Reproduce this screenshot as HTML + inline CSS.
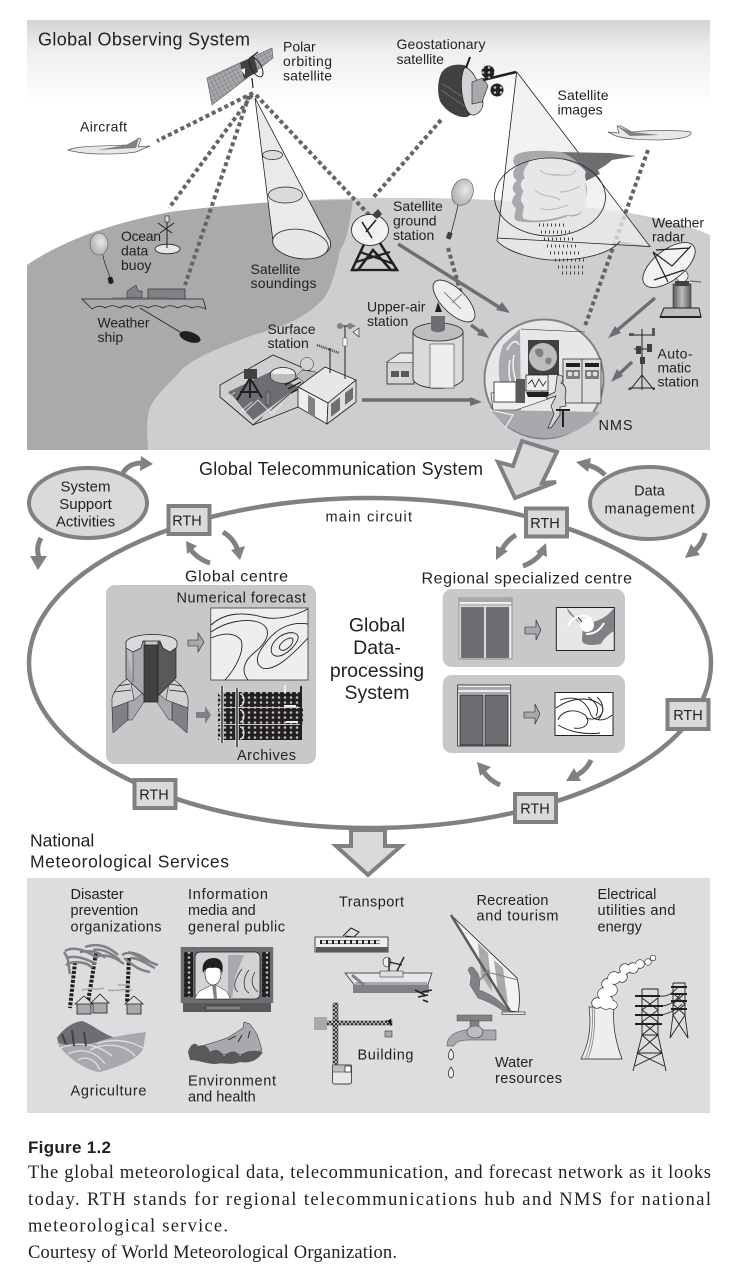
<!DOCTYPE html>
<html><head><meta charset="utf-8"><title>Global meteorological network</title>
<style>
html,body{margin:0;padding:0;background:#fff}
svg{display:block}
text{font-family:"Liberation Sans",sans-serif;fill:#231f20}
.l{font-size:14px}
.m{font-size:14.5px}
.c{font-size:15px;text-anchor:middle}
.cap{font-family:"Liberation Serif",serif;font-size:18.5px}
.dot{fill:none;stroke:#636466;stroke-width:4;stroke-dasharray:4 3}
.ar{fill:none;stroke:#6d6e71;stroke-width:3.4}
.af{fill:#6d6e71}
.cv{fill:none;stroke:#808184;stroke-width:5}
.cf{fill:#808184}
.k{fill:none;stroke:#231f20;stroke-width:.9}
.rth{fill:#d9dadc;stroke:#808184;stroke-width:4}
</style></head><body>
<svg xmlns="http://www.w3.org/2000/svg" width="752" height="1276" viewBox="0 0 752 1276">
<defs>
<linearGradient id="sky" x1="0" y1="0" x2="0" y2="1"><stop offset="0" stop-color="#d3d4d6"/><stop offset=".35" stop-color="#eeeeef"/><stop offset="1" stop-color="#fff"/></linearGradient>
<linearGradient id="ped" x1="0" y1="0" x2="1" y2="0"><stop offset="0" stop-color="#58595b"/><stop offset=".5" stop-color="#bcbdbf"/><stop offset="1" stop-color="#58595b"/></linearGradient>
<radialGradient id="bal" cx=".6" cy=".4" r=".7"><stop offset="0" stop-color="#e6e7e8"/><stop offset="1" stop-color="#a7a9ac"/></radialGradient>
<pattern id="grid" width="4" height="4" patternUnits="userSpaceOnUse" patternTransform="rotate(-28)"><rect width="4" height="4" fill="#a7a9ac"/><path d="M0 0H4M0 0V4" stroke="#58595b" stroke-width=".6"/></pattern>
<pattern id="rack" width="6" height="5" patternUnits="userSpaceOnUse"><rect width="6" height="5" fill="#231f20"/><circle cx="3" cy="2.5" r="1.3" fill="#bcbdbf"/></pattern>
<pattern id="lat" width="4" height="4" patternUnits="userSpaceOnUse"><rect width="4" height="4" fill="#dcddde"/><path d="M0 0L4 4M4 0L0 4" stroke="#231f20" stroke-width=".9"/></pattern>
</defs>
<rect width="752" height="1276" fill="#fff"/>

<!-- ===== Top panel ===== -->
<rect x="27" y="20" width="683" height="85" fill="url(#sky)"/>
<path d="M27 265C70 236 120 222 170 212C240 203 310 199 370 198C450 197 540 200 623 212C660 218 690 226 710 235V450H27Z" fill="#cdcecf"/>
<path d="M27 265C70 236 120 222 170 212C240 203 300 200 353 200C350 225 345 245 340 250C336 270 330 295 320 302C305 318 280 328 253 335C220 348 190 358 177 375C165 388 150 400 148 415C146 430 148 440 148 450H27Z" fill="#a9aaac"/>

<text x="38" y="45.5" font-size="18" textLength="212">Global Observing System</text>

<!-- dotted links -->
<path class="dot" d="M253 93L157 141"/>
<path class="dot" d="M252 95L169 208"/>
<path class="dot" d="M249 96L185 285"/>
<path class="dot" d="M256 95L372 218"/>
<path class="dot" d="M441 120L372 199"/>
<path class="dot" d="M648 150L585 326"/>
<path class="dot" d="M448 248L461 294"/>

<!-- Polar satellite -->
<polygon points="207,78 272,48 273,58 212,105" fill="url(#grid)" stroke="#58595b" stroke-width=".6"/>
<polygon points="240,63 254,57 258,72 244,79" fill="#414042"/>
<ellipse cx="256" cy="67" rx="5" ry="11" transform="rotate(-30 256 67)" fill="none" stroke="#231f20"/>
<path d="M250 58L258 52M252 78L253 88" stroke="#231f20" stroke-width="1.2"/>
<polygon points="241,70 245,68 245,75" fill="#fff"/>
<text class="l" x="283" y="51.5">Polar</text>
<text class="l" x="283" y="66" textLength="49">orbiting</text>
<text class="l" x="283" y="80.5" textLength="49">satellite</text>

<!-- Aircraft left -->
<text class="l" x="80" y="131.5" textLength="47">Aircraft</text>
<path d="M68 150C75 146 100 146 128 145L139 138L141 139L138 147L150 146L136 152C115 155 85 155 68 150Z" fill="#e6e7e8" stroke="#58595b" stroke-width=".7"/>
<path d="M98 150L126 145L139 138L136 148Z" fill="#808184"/>

<!-- Sounding cone -->
<path d="M255 98L273 241A28 15 14 1 0 328 237Z" fill="#e9eaeb" stroke="#231f20" stroke-width=".8"/>
<ellipse cx="272.5" cy="155" rx="10" ry="4.5" fill="#d9dadc" stroke="#231f20" stroke-width=".7"/>
<ellipse cx="285.5" cy="195" rx="17" ry="8" fill="#d9dadc" stroke="#231f20" stroke-width=".7"/>
<ellipse cx="300.5" cy="244" rx="28" ry="14.5" transform="rotate(8 300 244)" fill="#e6e7e8" stroke="#231f20" stroke-width=".8"/>
<text class="l" x="250.5" y="274">Satellite</text>
<text class="l" x="250.5" y="288" textLength="66">soundings</text>

<!-- Balloon left, buoy -->
<ellipse cx="99" cy="244" rx="9" ry="11" fill="url(#bal)" stroke="#58595b" stroke-width=".6"/>
<path d="M103 255C104 264 108 270 110 278" stroke="#231f20" stroke-width=".7" fill="none"/>
<rect x="108" y="277" width="5" height="7" rx="2" fill="#231f20" transform="rotate(-15 110 280)"/>
<ellipse cx="167.5" cy="249" rx="12.5" ry="4.8" fill="#e6e7e8" stroke="#231f20" stroke-width=".8"/>
<path d="M167 248V218M158 223L172 233M174 223L160 233" stroke="#231f20" stroke-width="1"/>
<rect x="165" y="216" width="4" height="6" fill="#dcddde" stroke="#231f20" stroke-width=".6"/>
<text class="l" x="121" y="241" textLength="40">Ocean</text>
<text class="l" x="121" y="255.5">data</text>
<text class="l" x="121" y="270">buoy</text>

<!-- Weather ship -->
<rect x="148" y="289" width="37" height="11" fill="#808184" stroke="#231f20" stroke-width=".6"/>
<path d="M127 298V291L136 285L138 291H142V298Z" fill="#808184" stroke="#231f20" stroke-width=".5"/>
<rect x="113" y="298" width="55" height="5" fill="#eeeeef" stroke="#231f20" stroke-width=".5"/>
<path d="M82 299H203L206 309C200 306 196 306 192 308C187 305 183 305 178 308C172 305 168 305 163 308C157 305 153 305 148 308C143 305 138 305 133 308C128 305 124 305 120 308C114 305 110 305 105 308C101 305 97 306 92 309Z" fill="#a9aaac" stroke="#231f20" stroke-width=".8"/>
<path d="M140 308L180 332" stroke="#231f20" stroke-width=".8"/>
<ellipse cx="190" cy="337" rx="11" ry="5" transform="rotate(18 190 337)" fill="#231f20"/>
<text class="l" x="97.5" y="327.5" textLength="52">Weather</text>
<text class="l" x="97.5" y="342">ship</text>

<!-- Ground station -->
<path d="M366 240L352 270H358L373 250L391 270H397L378 240Z" fill="none" stroke="#231f20" stroke-width="2.5"/>
<path d="M356 262L390 252M394 264L360 252M352 270H397" stroke="#231f20" stroke-width="2.2"/>
<ellipse cx="370" cy="230" rx="18.5" ry="15.5" fill="#f1f2f2" stroke="#231f20" stroke-width=".8"/>
<path d="M362 222L372 238M376 220L366 232" stroke="#231f20" stroke-width="1.6"/>
<path d="M372 215l6 -6 4 5-5 5z" fill="#414042"/>
<text class="l" x="393" y="211">Satellite</text>
<text class="l" x="393" y="225.5">ground</text>
<text class="l" x="393" y="240">station</text>

<!-- Balloon right -->
<ellipse cx="462.5" cy="192" rx="10.5" ry="13.5" transform="rotate(20 462 192)" fill="url(#bal)" stroke="#58595b" stroke-width=".6"/>
<path d="M458 205C456 215 453 226 451 233" stroke="#231f20" stroke-width=".7" fill="none"/>
<rect x="447" y="232" width="5" height="7" rx="1" fill="#414042" transform="rotate(20 449 235)"/>

<!-- Geostationary satellite -->
<text class="l" x="396.5" y="49" textLength="89">Geostationary</text>
<text class="l" x="396.5" y="64">satellite</text>
<path d="M442 72C437 80 437 96 441 103C447 112 458 118 467 117C473 114 478 108 480 100L467 66C458 63 447 65 442 72Z" fill="#414042"/>
<path d="M441 90L470 110M443 84L472 103" stroke="#808184" stroke-width=".7"/>
<path d="M465 67C474 70 483 90 483 104C482 113 474 117 470 114C462 108 458 78 465 67Z" fill="#d1d3d4" stroke="#231f20" stroke-width=".7"/>
<path d="M470 57L466 68" stroke="#231f20" stroke-width="2"/>
<path d="M472 82L483 78L488 86L482 102L472 104Z" fill="#a7a9ac" stroke="#231f20" stroke-width=".6"/>
<path d="M483 80L516 72" stroke="#231f20" stroke-width="2.6"/>
<circle cx="488" cy="72" r="6.5" fill="url(#rack)"/>
<circle cx="497" cy="90" r="6.5" fill="url(#rack)"/>

<!-- Satellite image cone and cloud -->
<path d="M516.7 71.7L497 241C510 254 540 261 560 260C590 259 612 252 620 241L650 246.5Z" fill="#eeeeef" fill-opacity=".75"/>
<path d="M516.7 71.7L497 241C510 254 540 261 560 260C590 259 612 252 620 241" fill="none" stroke="#231f20" stroke-width=".8"/>
<path d="M516.7 71.7L650 246.5L497 238" fill="none" stroke="#231f20" stroke-width=".8"/>
<path d="M556 152L610 153L636 156L612 160L606 165L598 170L600 174L586 181L584 172Z" fill="#6d6e71"/>
<path d="M515 156C520 150 545 150 560 152C572 155 580 165 585 170L584 180C590 190 586 198 584 203C585 212 578 218 568 216C555 222 530 224 517 221C512 218 516 211 516 208C510 204 512 197 516 194C511 190 512 184 517 181C511 176 513 169 517 167C513 164 512 160 515 156Z" fill="#a7a9ac"/>
<path d="M530 160C545 155 575 158 586 172C582 180 590 195 585 205C583 214 575 216 566 215C552 220 534 222 524 219C520 214 526 208 523 204C518 198 524 194 523 190C519 186 521 180 525 178C521 172 526 168 530 160Z" fill="#e6e7e8"/>
<path d="M540 170C548 178 556 172 560 176M535 190C542 198 552 194 560 200M540 208C548 212 560 208 568 205M553 176C560 172 570 180 576 170M560 192C566 192 574 190 580 186" fill="none" stroke="#bcbdbf" stroke-width="1.2"/>
<ellipse cx="550" cy="197" rx="55.5" ry="39" fill="none" stroke="#231f20" stroke-width=".8"/>
<path d="M539 225H565M541 232H570M544 239H574M547 246H578M550 253H582M555 260H586M558 267H586M562 273H584" stroke="#414042" stroke-width="3" stroke-dasharray="1 3" fill="none"/>
<text class="l" x="557.5" y="100" textLength="51">Satellite</text>
<text class="l" x="557.5" y="114.5">images</text>

<!-- Plane right -->
<path d="M608 132L619 133L617 126L621 126L632 132C650 130 680 130 691 132C692 137 682 139 660 140C640 140 625 139 616 136Z" fill="#e6e7e8" stroke="#58595b" stroke-width=".7"/>
<path d="M617 126L632 132L660 135L630 136Z" fill="#808184"/>

<!-- Weather radar -->
<text class="l" x="652" y="227.5" textLength="52">Weather</text>
<text class="l" x="652" y="241.5">radar</text>
<rect x="673" y="284" width="18" height="24" fill="url(#ped)" stroke="#231f20" stroke-width=".5"/>
<path d="M664 308H699L701 317H660Z" fill="#bcbdbf" stroke="#231f20"/>
<rect x="660" y="316" width="41" height="2" fill="#231f20"/>
<circle cx="682" cy="276" r="6" fill="#f1f2f2" stroke="#231f20" stroke-width=".6"/>
<rect x="675" y="281" width="14" height="5" fill="#414042"/>
<ellipse cx="669" cy="265" rx="31" ry="15" transform="rotate(-38 669 265)" fill="#f1f2f2" stroke="#231f20" stroke-width=".8"/>
<path d="M653 252L672 266L691 246M653 252L668 282M684 270L654 280M656 250L690 248" fill="none" stroke="#231f20" stroke-width="1.2"/>
<path d="M690 281L701 282" stroke="#58595b" stroke-width="1"/>

<!-- Upper-air -->
<text class="l" x="367" y="311.5">Upper-air</text>
<text class="l" x="367" y="326">station</text>
<rect x="387" y="362" width="27" height="22" fill="#d1d3d4" stroke="#231f20" stroke-width=".8"/>
<path d="M387 362L400 353H415V362" fill="#e6e7e8" stroke="#231f20" stroke-width=".7"/>
<rect x="391" y="371" width="8" height="6" fill="#58595b"/><rect x="401" y="371" width="8" height="6" fill="#58595b"/>
<path d="M413 332V380C420 391 455 391 463 380V332Z" fill="#d9dadc" stroke="#231f20" stroke-width=".8"/>
<ellipse cx="438" cy="332" rx="25" ry="9" fill="#bcbdbf" stroke="#231f20" stroke-width=".7"/>
<path d="M430 344H454V388H430Z" fill="#eeeeef" stroke="#231f20" stroke-width=".5"/>
<path d="M431 330V316H445V330C441 333 435 333 431 330Z" fill="#6d6e71"/>
<path d="M435 312L438 302L442 312Z" fill="#231f20"/>
<ellipse cx="454" cy="301" rx="27" ry="12" transform="rotate(45 454 301)" fill="#eeeeef" stroke="#231f20" stroke-width=".8"/>
<path d="M444 292L461 309M452 303L462 294" stroke="#808184" stroke-width="1"/>

<!-- Surface station -->
<text class="l" x="267.5" y="334" textLength="48">Surface</text>
<text class="l" x="267.5" y="348">station</text>
<polygon points="220,385 273,355 315,373 298,387 253,425 220,397" fill="#cdcecf" stroke="#231f20" stroke-width=".8"/>
<polygon points="228,392 270,372 298,387 253,420" fill="#6d6e71"/>
<path d="M220 397L253 425L298 407" fill="none" stroke="#231f20" stroke-width=".8"/>
<path d="M225 400L235 392M240 412L252 402M262 418L272 408M232 396L245 412L258 400L272 414L282 404" fill="none" stroke="#eeeeef" stroke-width=".8"/>
<ellipse cx="283" cy="374" rx="12.5" ry="6.5" fill="#eeeeef" stroke="#231f20" stroke-width=".8"/>
<path d="M270.5 374V378C276 385 290 385 295.5 378V374" fill="#bcbdbf" stroke="#231f20" stroke-width=".6"/>
<path d="M250 378L237 400M250 378L262 398M250 378V398M240 392H259" fill="none" stroke="#231f20" stroke-width="2"/>
<rect x="244" y="369" width="13" height="10" fill="#414042"/>
<rect x="266" y="392" width="4" height="13" fill="#808184" stroke="#231f20" stroke-width=".4"/>
<path d="M302 370L316 372L320 378L306 384L296 376Z" fill="#bcbdbf" stroke="#231f20" stroke-width=".5"/>
<circle cx="307" cy="364" r="6.5" fill="#d1d3d4" stroke="#231f20" stroke-width=".5"/>
<path d="M285 385L298 378M288 389L301 382M291 393L304 386" stroke="#231f20" stroke-width="1.4"/>
<polygon points="298,387 325,367 356,380 328,403" fill="#e6e7e8" stroke="#231f20" stroke-width=".8"/>
<polygon points="298,387 328,403 327,424 298,407" fill="#eeeeef" stroke="#231f20" stroke-width=".8"/>
<polygon points="328,403 356,380 356,402 327,424" fill="#dcddde" stroke="#231f20" stroke-width=".8"/>
<polygon points="331,404 340,397 340,410 331,417" fill="#6d6e71"/>
<polygon points="345,393 353,387 353,399 345,405" fill="#6d6e71"/>
<polygon points="308,395 315,399 315,417 308,413" fill="#808184"/>
<path d="M330 373V348M345 379V330" stroke="#231f20" stroke-width="1"/>
<path d="M317 345L339 353" stroke="#414042" stroke-width="2.5" stroke-dasharray="1 1"/>
<path d="M339 326H355M345 326V340" stroke="#231f20" stroke-width="1"/>
<circle cx="340" cy="326" r="3" fill="#808184"/><circle cx="350" cy="326" r="3" fill="#808184"/>
<polygon points="353,332 359,328 359,337" fill="#e6e7e8" stroke="#231f20" stroke-width=".6"/>
<rect x="343" y="338" width="4" height="8" fill="#fff" stroke="#231f20" stroke-width=".4"/>

<!-- Automatic station -->
<path d="M642 329V375M642 375L630 390M642 375V390M642 375L654 390M629 388H655M629 388V390M654 388V390" fill="none" stroke="#231f20" stroke-width="1"/>
<path d="M630 335H654M634 349H651" stroke="#231f20" stroke-width="1"/>
<rect x="640" y="357" width="5" height="7" fill="#414042"/>
<rect x="636" y="346" width="5" height="8" fill="#414042"/><rect x="647" y="344" width="5" height="8" fill="#414042"/>
<rect x="629" y="333" width="5" height="3" fill="#58595b"/><rect x="652" y="328" width="3" height="8" fill="#58595b"/>
<text class="l" x="657.5" y="358.5" textLength="35">Auto-</text>
<text class="l" x="657.5" y="372.5">matic</text>
<text class="l" x="657.5" y="386.5">station</text>

<!-- NMS room -->
<circle cx="544" cy="379" r="59.5" fill="#e6e7e8" stroke="#808184" stroke-width="2"/>
<path d="M503 345L520 329L521 420L505 400C497 380 497 360 503 345Z" fill="#a7a9ac"/>
<path d="M507 350C512 340 517 340 519 345M510 360C506 380 515 395 518 400M514 355C510 375 520 385 517 395" fill="none" stroke="#f1f2f2" stroke-width="1.5"/>
<path d="M521 329L585 332" stroke="#231f20" stroke-width=".6"/>
<rect x="528" y="340" width="31" height="35" fill="#414042"/>
<circle cx="543" cy="357" r="14" fill="#bcbdbf"/>
<path d="M535 350C540 346 545 350 543 355C540 360 535 356 535 350ZM546 358C552 356 553 360 550 364C547 366 544 362 546 358Z" fill="#808184"/>
<rect x="563" y="359" width="38" height="44" fill="#dcddde" stroke="#231f20" stroke-width=".7"/>
<path d="M582 359V403" stroke="#231f20" stroke-width=".7"/>
<rect x="566" y="363" width="14" height="4" fill="#231f20"/><rect x="585" y="363" width="14" height="4" fill="#231f20"/>
<rect x="566" y="370" width="14" height="9" fill="#808184"/><rect x="585" y="370" width="14" height="9" fill="#808184"/>
<circle cx="570" cy="374" r="3" fill="#dcddde" stroke="#231f20" stroke-width=".5"/><circle cx="576" cy="374" r="3" fill="#dcddde" stroke="#231f20" stroke-width=".5"/>
<circle cx="589" cy="374" r="3" fill="#dcddde" stroke="#231f20" stroke-width=".5"/><circle cx="595" cy="374" r="3" fill="#dcddde" stroke="#231f20" stroke-width=".5"/>
<path d="M490 410L547 411L600 412L592 420C580 432 560 438 544 438C527 438 510 430 500 420Z" fill="#a7a9ac"/>
<path d="M490 410L513 415L505 428" stroke="#fff" stroke-width="1" fill="none"/>
<polygon points="491,393 540,389 548,399 516,410 493,410" fill="#eeeeef" stroke="#231f20" stroke-width=".6"/>
<rect x="494" y="382" width="22" height="20" fill="#fff" stroke="#231f20" stroke-width=".8"/>
<rect x="516" y="379" width="9" height="24" fill="#58595b"/>
<rect x="526" y="375" width="22" height="16" fill="#eeeeef" stroke="#231f20" stroke-width=".8"/>
<path d="M528 384L532 380L535 387L539 379L543 386L546 381" fill="none" stroke="#231f20" stroke-width=".8"/>
<path d="M526 392H549L548 397H528Z" fill="#231f20"/>
<path d="M557 378C556 374 562 374 563 378C563 381 562 382 561 383C566 385 567 390 565 398L566 406L560 407V415L551 428H548L554 414L551 406L556 396L547 399V396L555 392Z" fill="#d1d3d4" stroke="#231f20" stroke-width=".7"/>
<path d="M556 410H570M563 410V427" stroke="#231f20" stroke-width="2"/>
<text x="598.5" y="430" font-size="14.5" textLength="34">NMS</text>

<!-- arrows top -->
<path class="ar" d="M398 244L502 309"/><polygon class="af" points="510,313 496,310 502,302"/>
<path class="ar" d="M471 325L482 333"/><polygon class="af" points="489,338 477,335 482,328"/>
<path class="ar" d="M655 298L614 333"/><polygon class="af" points="608,338 615,326 621,333"/>
<path class="ar" d="M632 362L617 376"/><polygon class="af" points="611,382 617,369 623,376"/>
<path class="ar" d="M362 400H474"/><polygon class="af" points="482,402 470,397 470,406"/>

<!-- band white below panel -->
<rect x="0" y="450" width="752" height="428" fill="#fff"/>

<!-- ===== GTS ===== -->
<ellipse cx="370" cy="663" rx="341" ry="165" fill="none" stroke="#808184" stroke-width="4.5"/>
<text x="199" y="475" font-size="18" textLength="284">Global Telecommunication System</text>
<polygon points="522,441 557,452 542,483 556,482 515,498 498,462 513,466" fill="#d9dadc" stroke="#808184" stroke-width="4"/>

<ellipse cx="88" cy="503" rx="59" ry="35" fill="#d9dadc" stroke="#808184" stroke-width="4"/>
<text class="c" x="85.5" y="491.5">System</text>
<text class="c" x="85.5" y="509">Support</text>
<text class="c" x="85.5" y="526.5">Activities</text>
<ellipse cx="649" cy="503" rx="59" ry="36" fill="#d9dadc" stroke="#808184" stroke-width="4"/>
<text x="649.5" y="495.5" font-size="14.5" text-anchor="middle">Data</text>
<text x="649.5" y="513.5" font-size="14.5" text-anchor="middle" textLength="90">management</text>

<rect class="rth" x="168.5" y="506" width="41" height="28"/>
<rect class="rth" x="526" y="508.5" width="41" height="28"/>
<rect class="rth" x="667.5" y="700" width="41" height="29"/>
<rect class="rth" x="515" y="794" width="41" height="28"/>
<rect class="rth" x="134.5" y="780" width="41" height="28"/>
<text x="187" y="525.5" font-size="14.5" text-anchor="middle">RTH</text>
<text x="545" y="528" font-size="14.5" text-anchor="middle">RTH</text>
<text x="688" y="720" font-size="14.5" text-anchor="middle">RTH</text>
<text x="535" y="813.5" font-size="14.5" text-anchor="middle">RTH</text>
<text x="154" y="799.5" font-size="14.5" text-anchor="middle">RTH</text>
<text class="m" x="325.5" y="521.5" textLength="86.5">main circuit</text>

<!-- curved arrows -->
<path class="cv" d="M123 473C127 466 134 463 142 463"/><polygon class="cf" points="153,464 140,471 141,456"/>
<path class="cv" d="M41 538C37 545 37 551 39 558"/><polygon class="cf" points="38,570 30,556 47,556"/>
<path class="cv" d="M210 563C200 560 194 554 190 549"/><polygon class="cf" points="186,541 197,546 187,554"/>
<path class="cv" d="M223 532C231 537 236 544 238 551"/><polygon class="cf" points="240,560 231,550 245,546"/>
<path class="cv" d="M516 535C509 539 504 545 502 550"/><polygon class="cf" points="496,560 496,546 508,551"/>
<path class="cv" d="M523 566C531 563 538 558 542 552"/><polygon class="cf" points="546,543 547,557 536,552"/>
<path class="cv" d="M605 475C600 470 594 466 586 465"/><polygon class="cf" points="576,462 591,458 588,472"/>
<path class="cv" d="M705 533C703 541 699 547 694 551"/><polygon class="cf" points="685,558 691,544 700,555"/>
<path class="cv" d="M591 760C588 767 582 773 575 776"/><polygon class="cf" points="566,781 574,768 581,781"/>
<path class="cv" d="M500 785C493 782 487 777 483 771"/><polygon class="cf" points="477,762 491,767 480,776"/>

<!-- Global centre -->
<text x="185" y="581.5" font-size="16" textLength="103">Global centre</text>
<rect x="106" y="585" width="210" height="179" rx="9" fill="#c7c8ca"/>
<text class="m" x="176.5" y="602.5" textLength="129.5">Numerical forecast</text>
<rect x="210.7" y="608" width="97.3" height="72" fill="#eeeeef" stroke="#58595b" stroke-width="1"/>
<g class="k">
<path d="M211 625C225 612 245 612 262 617C275 620 290 618 308 609"/>
<path d="M211 632C225 622 245 618 258 622C272 627 270 640 255 652C245 660 240 670 248 680"/>
<path d="M211 638C225 632 235 633 241 640C245 650 236 668 225 680"/>
<path d="M308 624C295 622 280 625 268 640C258 652 253 662 262 668C275 672 292 655 308 638"/>
<path d="M274 642C282 632 295 630 298 636C300 642 285 658 276 656C270 655 270 648 274 642Z"/>
<path d="M280 645C285 638 293 636 293 640C293 645 285 652 281 650C279 649 279 647 280 645Z"/>
</g>
<polygon points="188,640 198,640 198,633 204,642 198,652 198,646 188,646" fill="#a7a9ac" stroke="#231f20" stroke-width=".6"/>
<polygon points="196,712 205,712 205,706 211,715 205,724 205,718 196,718" fill="#808184"/>

<!-- Supercomputer -->
<path d="M112 698C115 688 122 682 130 677L134 700L112 708Z" fill="#d1d3d4" stroke="#231f20" stroke-width=".6"/>
<path d="M188 698C185 688 178 682 170 677L166 700L188 708Z" fill="#d1d3d4" stroke="#231f20" stroke-width=".6"/>
<path d="M114 692L131 690M118 686L130 684M186 692L169 690M182 686L170 684" stroke="#231f20" stroke-width=".8"/>
<polygon points="112,708 128,702 128,720 113,733" fill="#808184" stroke="#231f20" stroke-width=".5"/>
<polygon points="128,702 134,700 144,692 144,702 132,720 128,720" fill="#a7a9ac" stroke="#231f20" stroke-width=".5"/>
<polygon points="188,708 172,702 172,720 187,733" fill="#808184" stroke="#231f20" stroke-width=".5"/>
<polygon points="172,702 166,700 157,692 157,702 169,720 172,720" fill="#a7a9ac" stroke="#231f20" stroke-width=".5"/>
<path d="M126 642V678L145 696V642Z" fill="#a7a9ac" stroke="#231f20" stroke-width=".7"/>
<path d="M126 646L133 650V682" fill="#bcbdbf" stroke="#231f20" stroke-width=".5"/>
<path d="M144 645H158V702H144Z" fill="#414042" stroke="#231f20" stroke-width=".7"/>
<path d="M158 642V696L176 678V642Z" fill="#58595b" stroke="#231f20" stroke-width=".7"/>
<path d="M126 642V648L133 652L141 648L143 641H160L163 648L170 652L177 647V642C175 632 130 632 126 642Z" fill="#d9dadc" stroke="#231f20" stroke-width=".7"/>

<!-- Archives -->
<rect x="218" y="692" width="84" height="15" fill="url(#rack)"/>
<rect x="218" y="708" width="85" height="16" fill="url(#rack)"/>
<rect x="218" y="725" width="84" height="15" fill="url(#rack)"/>
<path d="M219 694a4 6 0 0 1 0 12M219 710a4 6 0 0 1 0 12M219 727a4 6 0 0 1 0 12M240 694a4 6 0 0 1 0 12M240 710a4 6 0 0 1 0 12M240 727a4 6 0 0 1 0 12" fill="none" stroke="#eeeeef" stroke-width="1.2"/>
<path d="M222 686V743" stroke="#eeeeef" stroke-width="3.4"/>
<path d="M222 686V743" stroke="#231f20" stroke-width="1.4"/>
<path d="M237 688V747" stroke="#eeeeef" stroke-width="3.4"/>
<path d="M237 688V747" stroke="#231f20" stroke-width="1.4"/>
<path d="M301 686V740" stroke="#231f20" stroke-width="2"/>
<rect x="284" y="705" width="12" height="2" fill="#eeeeef"/><rect x="286" y="721" width="12" height="2" fill="#eeeeef"/>
<rect x="284" y="685" width="2" height="8" fill="#eeeeef"/>
<text class="m" x="237" y="760" textLength="59">Archives</text>

<text x="377" y="631.5" font-size="19.5" text-anchor="middle">Global</text>
<text x="377" y="654" font-size="19.5" text-anchor="middle">Data-</text>
<text x="377" y="677" font-size="19.5" text-anchor="middle">processing</text>
<text x="377" y="699" font-size="19.5" text-anchor="middle">System</text>

<!-- Regional -->
<text x="421.5" y="583.5" font-size="16" textLength="210.5">Regional specialized centre</text>
<rect x="442.7" y="589" width="182.3" height="78" rx="9" fill="#c7c8ca"/>
<rect x="442.7" y="675" width="182.3" height="78" rx="9" fill="#c7c8ca"/>

<rect x="459" y="598" width="53" height="61" fill="#eeeeef" stroke="#808184" stroke-width=".8"/>
<rect x="459.5" y="598" width="52" height="4" fill="#a7a9ac"/><rect x="459.5" y="604" width="52" height="2" fill="#bcbdbf"/>
<rect x="461" y="607" width="23" height="51" fill="#6d6e71" stroke="#808184" stroke-width=".4"/>
<rect x="486" y="607" width="23" height="51" fill="#6d6e71" stroke="#808184" stroke-width=".4"/>
<rect x="457.7" y="685" width="53" height="61" fill="#eeeeef" stroke="#231f20" stroke-width=".8"/>
<rect x="458" y="687" width="52" height="3" fill="#a7a9ac"/><rect x="458" y="692" width="52" height="2" fill="#a7a9ac"/>
<rect x="460" y="695" width="23" height="50" fill="#6d6e71" stroke="#231f20" stroke-width=".8"/>
<rect x="485" y="695" width="23" height="50" fill="#6d6e71" stroke="#231f20" stroke-width=".8"/>

<polygon points="525,627 536,627 536,620 541,630 536,640 536,634 525,634" fill="#a7a9ac" stroke="#231f20" stroke-width=".6"/>
<polygon points="524,712 535,712 535,704 540,714 535,724 535,718 524,718" fill="#a7a9ac" stroke="#231f20" stroke-width=".6"/>

<rect x="556.3" y="607.5" width="58" height="43" fill="#e6e7e8" stroke="#231f20" stroke-width="1"/>
<path d="M567 608C568 615 575 617 578 622C590 625 605 620 614 608V631C607 635 603 640 601 644C590 646 582 645 582 640C582 632 585 622 579 622" fill="#808184"/>
<path d="M568 626C572 616 585 613 592 619" fill="none" stroke="#fff" stroke-width="2"/>
<circle cx="587" cy="625" r="7" fill="#fff"/>
<path d="M586 634C595 634 600 630 604 623" fill="none" stroke="#fff" stroke-width="2"/>
<path d="M578 617L582 622" stroke="#231f20" stroke-width="1"/>

<rect x="555" y="692.5" width="58" height="43" fill="#fff" stroke="#231f20" stroke-width="1"/>
<g class="k">
<path d="M556 708C570 698 590 695 602 706C606 714 596 722 586 718"/>
<path d="M560 700C575 695 585 700 590 712C592 722 605 722 612 715"/>
<path d="M558 720C562 710 575 708 585 715C592 722 585 730 574 728"/>
<path d="M558 725C570 732 585 735 600 733"/>
<path d="M588 697C596 702 600 708 596 716"/>
<path d="M597 697C604 703 605 712 598 720"/>
</g>

<!-- Down arrow -->
<text x="30" y="846.5" font-size="17.5">National</text>
<text x="30" y="867.5" font-size="17.5" textLength="199">Meteorological Services</text>
<polygon points="351,830 385,830 385,846 401,846 368,875 336,846 351,846" fill="#d9dadc" stroke="#808184" stroke-width="4"/>

<!-- ===== Bottom panel ===== -->
<rect x="27" y="878" width="683" height="235" fill="#dcddde"/>
<text class="m" x="70.5" y="899">Disaster</text>
<text class="m" x="70.5" y="915">prevention</text>
<text class="m" x="70.5" y="931.5" textLength="91">organizations</text>
<text class="m" x="188" y="899" textLength="80">Information</text>
<text class="m" x="188" y="915">media and</text>
<text class="m" x="188" y="931.5" textLength="97">general public</text>
<text class="m" x="339" y="906.5" textLength="65">Transport</text>
<text class="m" x="476.5" y="905" textLength="72">Recreation</text>
<text class="m" x="476.5" y="920.5" textLength="82">and tourism</text>
<text class="m" x="597.5" y="899">Electrical</text>
<text class="m" x="597.5" y="915" textLength="78">utilities and</text>
<text class="m" x="597.5" y="931.5">energy</text>
<text class="m" x="70.5" y="1095.5" textLength="76">Agriculture</text>
<text class="m" x="188" y="1085.5" textLength="88">Environment</text>
<text class="m" x="188" y="1101.5">and health</text>
<text class="m" x="357.5" y="1059.5" textLength="56">Building</text>
<text class="m" x="495" y="1067">Water</text>
<text class="m" x="495" y="1083" textLength="67">resources</text>

<!-- Palms -->
<g fill="none" stroke="#231f20">
<path d="M75 962L70 1008" stroke-width="4" stroke-dasharray="3 1.5"/>
<path d="M96 953L88 1002" stroke-width="4" stroke-dasharray="3 1.5"/>
<path d="M129 958L127 1002" stroke-width="4" stroke-dasharray="3 1.5"/>
</g>
<g fill="none" stroke="#808184" stroke-width="2.5">
<path d="M65 951C75 945 88 952 98 958M66 958C75 955 85 958 96 964M66 965C73 960 88 962 92 968M64 952C70 960 68 966 70 974"/>
<path d="M85 947C100 942 110 948 118 955M93 950C105 948 112 955 120 960M98 956C108 954 116 958 124 964M80 952C90 950 100 952 105 958"/>
<path d="M122 955C130 950 140 954 150 962M128 952C136 955 148 962 158 965M130 958C140 958 148 965 155 968M124 958C130 962 136 970 150 972"/>
</g>
<path d="M82 990C90 988 100 990 104 988M108 990C115 992 125 988 132 990M118 985H130" stroke="#a7a9ac" stroke-width="1.5" fill="none"/>
<g fill="#a7a9ac" stroke="#231f20" stroke-width=".8">
<rect x="77" y="1003" width="14" height="11"/><polygon points="75,1004 84,996 93,1004" fill="#dcddde"/>
<rect x="93" y="1002" width="14" height="11"/><polygon points="91,1003 100,994 109,1003" fill="#dcddde"/>
<rect x="127" y="1003" width="14" height="11"/><polygon points="125,1004 134,996 143,1004" fill="#dcddde"/>
</g>

<!-- TV -->
<rect x="180.7" y="947" width="92.5" height="56" fill="#6d6e71"/>
<rect x="183" y="1003" width="88" height="9" fill="#58595b"/>
<rect x="206" y="1006" width="35" height="4" fill="#808184" stroke="#231f20" stroke-width=".5"/>
<rect x="184" y="952" width="9" height="45" fill="url(#rack)"/>
<rect x="262" y="952" width="8" height="45" fill="url(#rack)"/>
<rect x="195" y="952" width="65" height="47" rx="5" fill="#d1d3d4" stroke="#231f20" stroke-width=".8"/>
<path d="M228 955H244L235 977L232 999H228Z" fill="#a7a9ac"/>
<path d="M242 969C235 978 232 988 238 992M249 970C242 978 243 990 249 993M255 972C250 980 252 988 258 992" fill="none" stroke="#231f20" stroke-width=".7"/>
<path d="M195 999C197 990 205 989 212 985H216C222 989 228 990 230 999Z" fill="#fff" stroke="#231f20" stroke-width=".5"/>
<path d="M212 985L214 999H217L216 985Z" fill="#808184"/>
<ellipse cx="213" cy="974" rx="8" ry="11" fill="#fff" stroke="#231f20" stroke-width=".6"/>
<path d="M203 973C201 962 207 958 214 958C222 958 224 965 222 974C221 968 217 967 212 968C207 967 205 970 203 973Z" fill="#231f20"/>

<!-- Agriculture -->
<path d="M57 1038C62 1030 72 1022 82 1021C92 1024 102 1034 116 1038C105 1046 85 1050 72 1052L60 1048Z" fill="#6d6e71"/>
<path d="M57 1042C70 1048 85 1046 100 1041C115 1036 130 1034 146 1032L143 1049C138 1060 115 1068 100 1072C90 1072 65 1058 57 1042Z" fill="#a7a9ac"/>
<path d="M60 1048C75 1042 95 1042 112 1056M68 1054C80 1048 95 1050 105 1064M78 1060C85 1056 95 1058 100 1070M90 1050C105 1042 125 1044 135 1056M97 1044C110 1038 130 1040 143 1048" fill="none" stroke="#dcddde" stroke-width="1.4"/>
<path d="M62 1034L66 1044M72 1030L74 1046M84 1032L86 1046" stroke="#414042" stroke-width="2"/>

<!-- Mountain -->
<path d="M196 1048C210 1043 225 1040 232 1035L243 1028L244 1022L250 1024L257 1034L262 1050C255 1055 215 1058 196 1048Z" fill="#a7a9ac" stroke="#231f20" stroke-width=".5"/>
<path d="M228 1040L236 1036M238 1042L242 1035M248 1038L250 1031" stroke="#231f20" stroke-width=".9"/>
<path d="M188 1052C190 1045 195 1041 198 1046C204 1044 208 1046 210 1052C216 1048 220 1050 224 1056C230 1050 236 1050 240 1056C246 1050 254 1050 263 1052C258 1060 250 1064 240 1062C230 1066 225 1062 216 1064C206 1064 198 1060 190 1060Z" fill="#58595b"/>

<!-- Train -->
<path d="M315 937H388V952H315Z" fill="#eeeeef" stroke="#231f20" stroke-width=".8"/>
<rect x="320" y="940" width="60" height="4" fill="#231f20"/>
<path d="M322 942H384" stroke="#eeeeef" stroke-width="3" stroke-dasharray="4 2"/>
<rect x="316" y="947" width="72" height="5" fill="#58595b"/>
<path d="M343 936L351 928L359 932L354 937L345 936" fill="none" stroke="#231f20" stroke-width="1"/>
<!-- Ship -->
<path d="M345 973H432L427 987H356Z" fill="#e6e7e8" stroke="#231f20" stroke-width=".7"/>
<rect x="355" y="982" width="72" height="3" fill="#a7a9ac"/>
<rect x="353" y="985" width="76" height="8" fill="#808184"/>
<rect x="380" y="971" width="23" height="6" fill="#dcddde" stroke="#231f20" stroke-width=".5"/>
<ellipse cx="387" cy="962" rx="4" ry="5" fill="#eeeeef" stroke="#231f20" stroke-width=".6"/>
<path d="M389 958V971M389 962L402 965M397 971L404 957" stroke="#231f20" stroke-width="1.4"/>
<path d="M415 990L425 995M422 992L432 990M418 997L428 995M423 1000L428 1002" stroke="#231f20" stroke-width="1.6"/>
<path d="M352 975L364 985" stroke="#808184" stroke-width="3"/>

<!-- Crane -->
<rect x="333" y="1003" width="5" height="65" fill="url(#lat)" stroke="#231f20" stroke-width=".4"/>
<rect x="327" y="1021" width="65" height="4" fill="url(#lat)" stroke="#231f20" stroke-width=".4"/>
<rect x="314" y="1017" width="13" height="13" fill="#a7a9ac"/>
<path d="M388 1021L391 1019V1026M386 1020L392 1025" stroke="#231f20" stroke-width=".7"/>
<rect x="385" y="1031" width="7" height="6" fill="#a7a9ac" stroke="#231f20" stroke-width=".5"/>
<rect x="332.5" y="1065" width="19" height="19" rx="2" fill="#e6e7e8" stroke="#414042" stroke-width=".9"/>
<rect x="332.5" y="1065" width="19" height="7" fill="#bcbdbf" stroke="#414042" stroke-width=".6"/>
<rect x="345" y="1066" width="6" height="6" fill="#fff" stroke="#231f20" stroke-width=".7"/>

<!-- Windsurfer -->
<path d="M451 915L517 978C520 990 520 1005 518 1012L510 1011Z" fill="#f1f2f2" stroke="#231f20" stroke-width=".8"/>
<path d="M478 943L488 953L492 992L481 975ZM494 960L503 968L508 1004L498 992Z" fill="#a7a9ac"/>
<path d="M451 915L510 1011" stroke="#58595b" stroke-width="2.5"/>
<path d="M483 971L518 980" stroke="#808184" stroke-width="1"/>
<path d="M468 970C469 966 474 966 475 970C481 975 480 984 479 990C488 993 498 998 509 1011L503 1011C494 1004 484 1000 478 998L470 985L471 976Z" fill="#808184" stroke="#58595b" stroke-width=".5"/>
<path d="M478 982L489 970" stroke="#808184" stroke-width="1.6"/>
<rect x="502" y="1012" width="23" height="2.5" fill="#eeeeef" stroke="#231f20" stroke-width=".6"/>

<!-- Tap -->
<rect x="457" y="1015" width="35" height="6" fill="#808184" stroke="#414042" stroke-width=".4"/>
<rect x="470" y="1021" width="9" height="10" fill="#808184" stroke="#414042" stroke-width=".4"/>
<path d="M447 1046C447 1037 453 1032 466 1030L490 1030L496 1030V1040H470C460 1040 456 1042 454 1046Z" fill="#a7a9ac" stroke="#414042" stroke-width=".5"/>
<ellipse cx="475" cy="1032" rx="8" ry="6" fill="#bcbdbf" stroke="#414042" stroke-width=".6"/>
<path d="M451 1049C448 1053 447 1058 451 1060C455 1058 454 1053 451 1049ZM451 1067C448 1071 447 1076 451 1078C455 1076 454 1071 451 1067Z" fill="#eeeeef" stroke="#231f20" stroke-width=".7"/>

<!-- Cooling tower, smoke -->
<path d="M589 1007H614C612 1030 618 1048 622 1059H581C588 1045 592 1030 589 1007Z" fill="#eeeeef" stroke="#231f20" stroke-width=".7"/>
<path d="M592 1007C594 1030 590 1048 585 1059M594 1007C596 1030 592 1048 588 1059" stroke="#808184" fill="none" stroke-width=".8"/>
<g fill="#231f20">
<circle cx="597" cy="1003" r="5.6"/><circle cx="606" cy="1002" r="7.6"/><circle cx="613" cy="1005" r="4.6"/><circle cx="604" cy="994" r="6.6"/><circle cx="611" cy="990" r="6.6"/><circle cx="607" cy="984" r="5.6"/><circle cx="614" cy="978" r="6.6"/><circle cx="622" cy="977" r="5.6"/><circle cx="625" cy="969" r="5.6"/><circle cx="633" cy="968" r="5.6"/><circle cx="640" cy="964" r="4.6"/><circle cx="648" cy="962" r="3.6"/><circle cx="653" cy="958" r="3.1"/>
</g>
<g fill="#fff">
<circle cx="597" cy="1003" r="5"/><circle cx="606" cy="1002" r="7"/><circle cx="613" cy="1005" r="4"/><circle cx="604" cy="994" r="6"/><circle cx="611" cy="990" r="6"/><circle cx="607" cy="984" r="5"/><circle cx="614" cy="978" r="6"/><circle cx="622" cy="977" r="5"/><circle cx="625" cy="969" r="5"/><circle cx="633" cy="968" r="5"/><circle cx="640" cy="964" r="4"/><circle cx="648" cy="962" r="3"/><circle cx="653" cy="958" r="2.5"/>
</g>

<!-- Pylons -->
<g fill="none" stroke="#231f20" stroke-width=".9">
<path d="M642 989H658V1035L666 1071M642 989V1035L633 1071M642 1035H658M637 1053H662M637 1053L658 1035M642 1035L662 1053M637 1053L664 1066M662 1053L635 1066"/>
<path d="M642 998L658 1010M658 998L642 1010M642 1010L658 1022M658 1010L642 1022M642 1022L658 1035M658 1022L642 1035"/>
<path d="M673 983H685V1015L688 1038M673 983V1015L670 1038M673 993L685 1004M685 993L673 1004M673 1004L685 1015M685 1004L673 1015M673 1015L688 1038M685 1015L670 1038"/>
<path d="M660 996C667 997 672 994 678 987M660 1006C668 1006 675 1002 680 995M660 1015C668 1014 677 1010 682 1004"/>
</g>
<g stroke="#231f20" stroke-width="2">
<path d="M635 996H660M635 1006H663M635 1015H663M635 1024H662"/>
<path d="M671 987H687M671 994H687M671 1001H687M671 1009H687"/>
</g>

<!-- ===== Caption ===== -->
<text x="28" y="1153" font-size="17" font-weight="700" textLength="83">Figure 1.2</text>
<text class="cap" x="28" y="1178" textLength="683">The global meteorological data, telecommunication, and forecast network as it looks</text>
<text class="cap" x="28" y="1205" textLength="683">today. RTH stands for regional telecommunications hub and NMS for national</text>
<text class="cap" x="28" y="1231.5" textLength="200">meteorological service.</text>
<text class="cap" x="28" y="1258" textLength="369">Courtesy of World Meteorological Organization.</text>
</svg>
</body></html>
